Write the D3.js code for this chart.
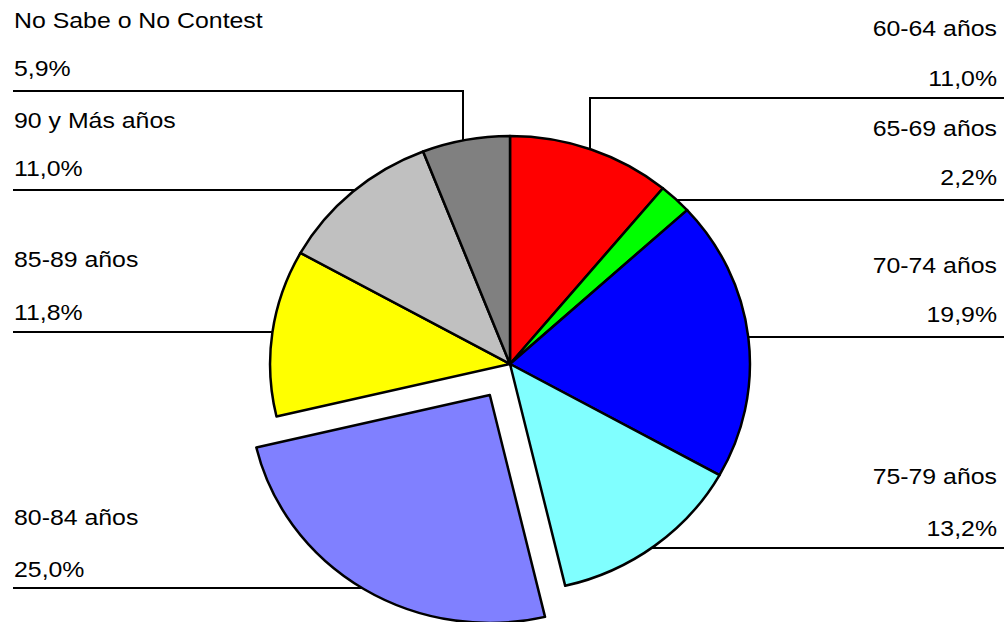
<!DOCTYPE html>
<html>
<head>
<meta charset="utf-8">
<script src="https://cdn.jsdelivr.net/npm/d3@7"></script>
<style>
  html, body { margin: 0; padding: 0; background: #fff; }
  svg { display: block; }
  text { font-family: "Liberation Sans", Arial, sans-serif; fill: #000; }
</style>
</head>
<body>
<svg id="chart" width="1007" height="622"></svg>
<script>
// Age groups, clockwise from 12 o'clock
const categories = ["60-64 años", "65-69 años", "70-74 años", "75-79 años",
                    "80-84 años", "85-89 años", "90 y Más años", "No Sabe o No Contest"];
const values = [11.0, 2.2, 19.9, 13.2, 25.0, 11.8, 11.0, 5.9];
const sliceColors = ["#ff0000", "#00ff00", "#0000ff", "#80ffff",
                     "#8080ff", "#ffff00", "#c0c0c0", "#808080"];
const explodedSlice = "80-84 años";

// Label placement: side, baselines of the two text lines, leader y, optional elbow x
const labelLayout = [
  { side: "right", nameY: 36,  valueY: 86,  lineY: 98,  elbowX: 590 },
  { side: "right", nameY: 136, valueY: 185, lineY: 200 },
  { side: "right", nameY: 273, valueY: 322, lineY: 337 },
  { side: "right", nameY: 484, valueY: 536, lineY: 548 },
  { side: "left",  nameY: 525, valueY: 577, lineY: 588 },
  { side: "left",  nameY: 267, valueY: 320, lineY: 332 },
  { side: "left",  nameY: 128, valueY: 176, lineY: 190 },
  { side: "left",  nameY: 28,  valueY: 76,  lineY: 91,  elbowX: 463 }
];

const W = 1007, H = 622;
const cx = 510, cy = 364, rx = 240, ry = 228;
const explodeK = 0.16;
const leftX = 13, rightX = 1004;
const textLeft = 14, textRight = 997;
const fontSize = 22, stretchX = 1.13;

const svg = d3.select("#chart");
const fmt = v => d3.format(".1f")(v).replace(".", ",") + "%";

const arcs = d3.pie().sort(null).value(d => d)(values);
const arcGen = d3.arc().innerRadius(0).outerRadius(1);

const slices = arcs.map((a, i) => {
  const mid = (a.startAngle + a.endAngle) / 2;
  const k = categories[i] === explodedSlice ? explodeK : 0;
  return {
    arc: a, i,
    ox: cx + rx * k * Math.sin(mid),
    oy: cy - ry * k * Math.cos(mid)
  };
});

// Pie slices, drawn on a unit circle stretched into an ellipse
const pieG = svg.append("g");
slices.forEach(s => {
  pieG.append("g")
    .attr("transform", `translate(${s.ox},${s.oy}) scale(${rx},${ry})`)
    .append("path")
    .attr("d", arcGen(s.arc))
    .attr("fill", sliceColors[s.i])
    .attr("stroke", "#000")
    .attr("stroke-width", 2.5)
    .attr("stroke-linejoin", "round")
    .attr("vector-effect", "non-scaling-stroke");
});

// Leader lines, ending on the slice's rim
const lineG = svg.append("g").attr("fill", "none").attr("stroke", "#000").attr("stroke-width", 2);
slices.forEach(s => {
  const L = labelLayout[s.i];
  const sign = L.side === "right" ? 1 : -1;
  const endX = L.side === "right" ? rightX : leftX;
  let pts;
  if (L.elbowX !== undefined) {
    const dx = (L.elbowX - s.ox) / rx;
    const rimY = s.oy - ry * Math.sqrt(Math.max(0, 1 - dx * dx));
    pts = [[endX, L.lineY], [L.elbowX, L.lineY], [L.elbowX, rimY]];
  } else {
    const dy = (L.lineY - s.oy) / ry;
    const rimX = s.ox + sign * rx * Math.sqrt(Math.max(0, 1 - dy * dy));
    pts = [[endX, L.lineY], [rimX, L.lineY]];
  }
  lineG.append("path").attr("d", d3.line()(pts));
});

// Category and percentage labels
const textG = svg.append("g").style("font-size", fontSize + "px");
slices.forEach(s => {
  const L = labelLayout[s.i];
  const x = L.side === "right" ? textRight : textLeft;
  const anchor = L.side === "right" ? "end" : "start";
  [[categories[s.i], L.nameY], [fmt(values[s.i]), L.valueY]].forEach(([t, y]) => {
    textG.append("g")
      .attr("transform", `translate(${x},${y}) scale(${stretchX},1)`)
      .append("text")
      .attr("text-anchor", anchor)
      .text(t);
  });
});
</script>
</body>
</html>
